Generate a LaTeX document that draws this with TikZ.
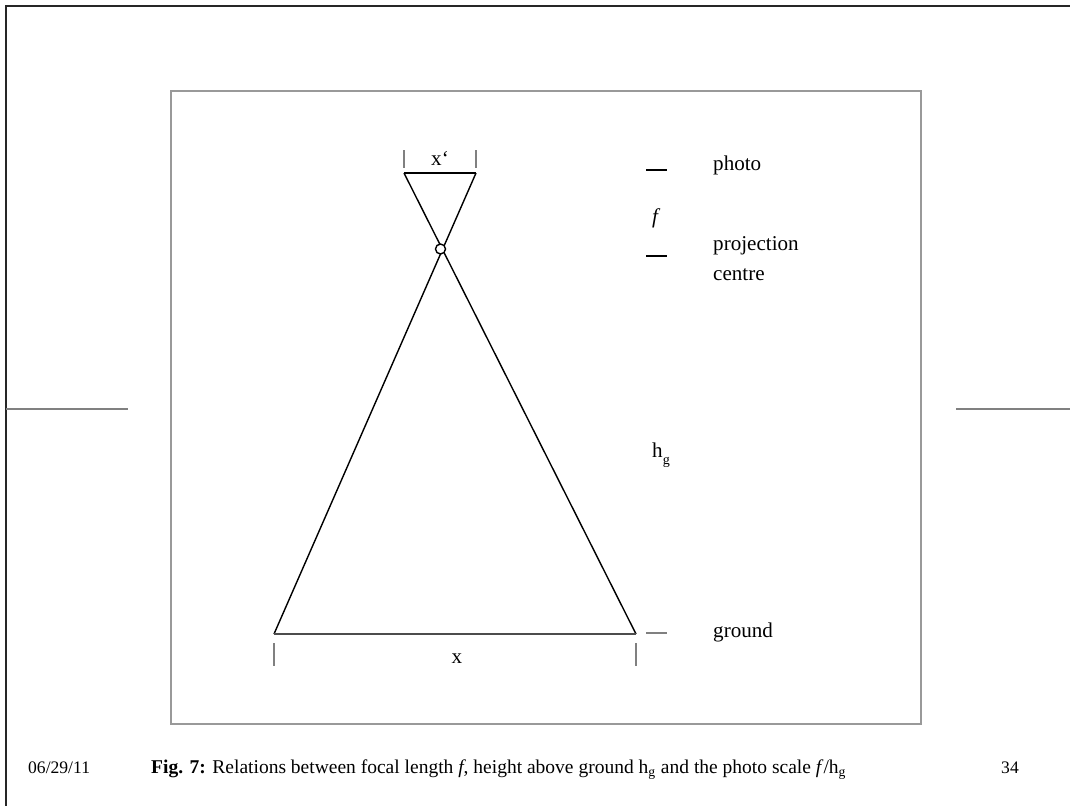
\documentclass[tikz,border=0pt]{standalone}
\usepackage{fontspec}
\setmainfont{Liberation Serif}
\begin{document}
\begin{tikzpicture}[x=0.02cm,y=-0.02cm]
  \useasboundingbox (0,0) rectangle (1070,806);
  % slide frame
  \draw[line width=1pt,black!85] (1070,6) -- (6,6) -- (6,806);
  \draw[line width=1pt,gray] (6,409) -- (128,409);
  \draw[line width=1pt,gray] (956,409) -- (1070,409);
  \draw[line width=1.5pt,gray!80] (171,91) rectangle (921,724);
  % rays through the projection centre
  \coordinate (pl) at (404,173);
  \coordinate (pr) at (476,173);
  \coordinate (gl) at (274,634);
  \coordinate (gr) at (636,634);
  \draw[thick] (pl) -- (pr);
  \draw[thick] (pl) -- (gr);
  \draw[thick] (pr) -- (gl);
  \draw[line width=1.4pt,black!70] (gl) -- (gr);
  \node[circle,draw,thick,fill=white,inner sep=0pt,minimum size=10*0.02cm] (pc) at (440.5,249) {};
  % widths
  \draw[thick,gray] (404,150) -- (404,168);
  \draw[thick,gray] (476,150) -- (476,168);
  \node[font=\fontsize{12}{14}\selectfont] (xp) at (440,158) {x‘};
  \draw[thick,gray] (274,643) -- (274,666);
  \draw[thick,gray] (636,643) -- (636,666);
  \node[font=\fontsize{12}{14}\selectfont] (xg) at (457,659) {x};
  % levels
  \draw[thick] (646,170) -- (667,170);
  \draw[thick] (646,256) -- (667,256);
  \draw[thick,gray] (646,633) -- (667,633);
  \node[anchor=west,font=\fontsize{12}{14}\selectfont] (photo) at (707,165) {photo};
  \node[font=\fontsize{12}{14}\selectfont\itshape] (focal) at (655,218) {f};
  \node[anchor=west,align=left,font=\fontsize{12}{17}\selectfont] (centre) at (707,259) {projection\\centre};
  \node[anchor=west,font=\fontsize{12}{14}\selectfont] (height) at (646,455) {h\raisebox{-0.7ex}{\footnotesize g}};
  \node[anchor=west,font=\fontsize{12}{14}\selectfont] (ground) at (707,632) {ground};
  % footer
  \node[anchor=west,font=\fontsize{10}{12}\selectfont] (date) at (22,768) {06/29/11};
  \node[anchor=west,font=\fontsize{11.1}{13}\selectfont] (caption) at (145,770) {\textbf{Fig. 7:} Relations between focal length \textit{f}, height above ground h\textsubscript{g} and the photo scale \textit{f}/h\textsubscript{g}};
  \node[anchor=west,font=\fontsize{10}{12}\selectfont] (page) at (995,768) {34};
\end{tikzpicture}
\end{document}
